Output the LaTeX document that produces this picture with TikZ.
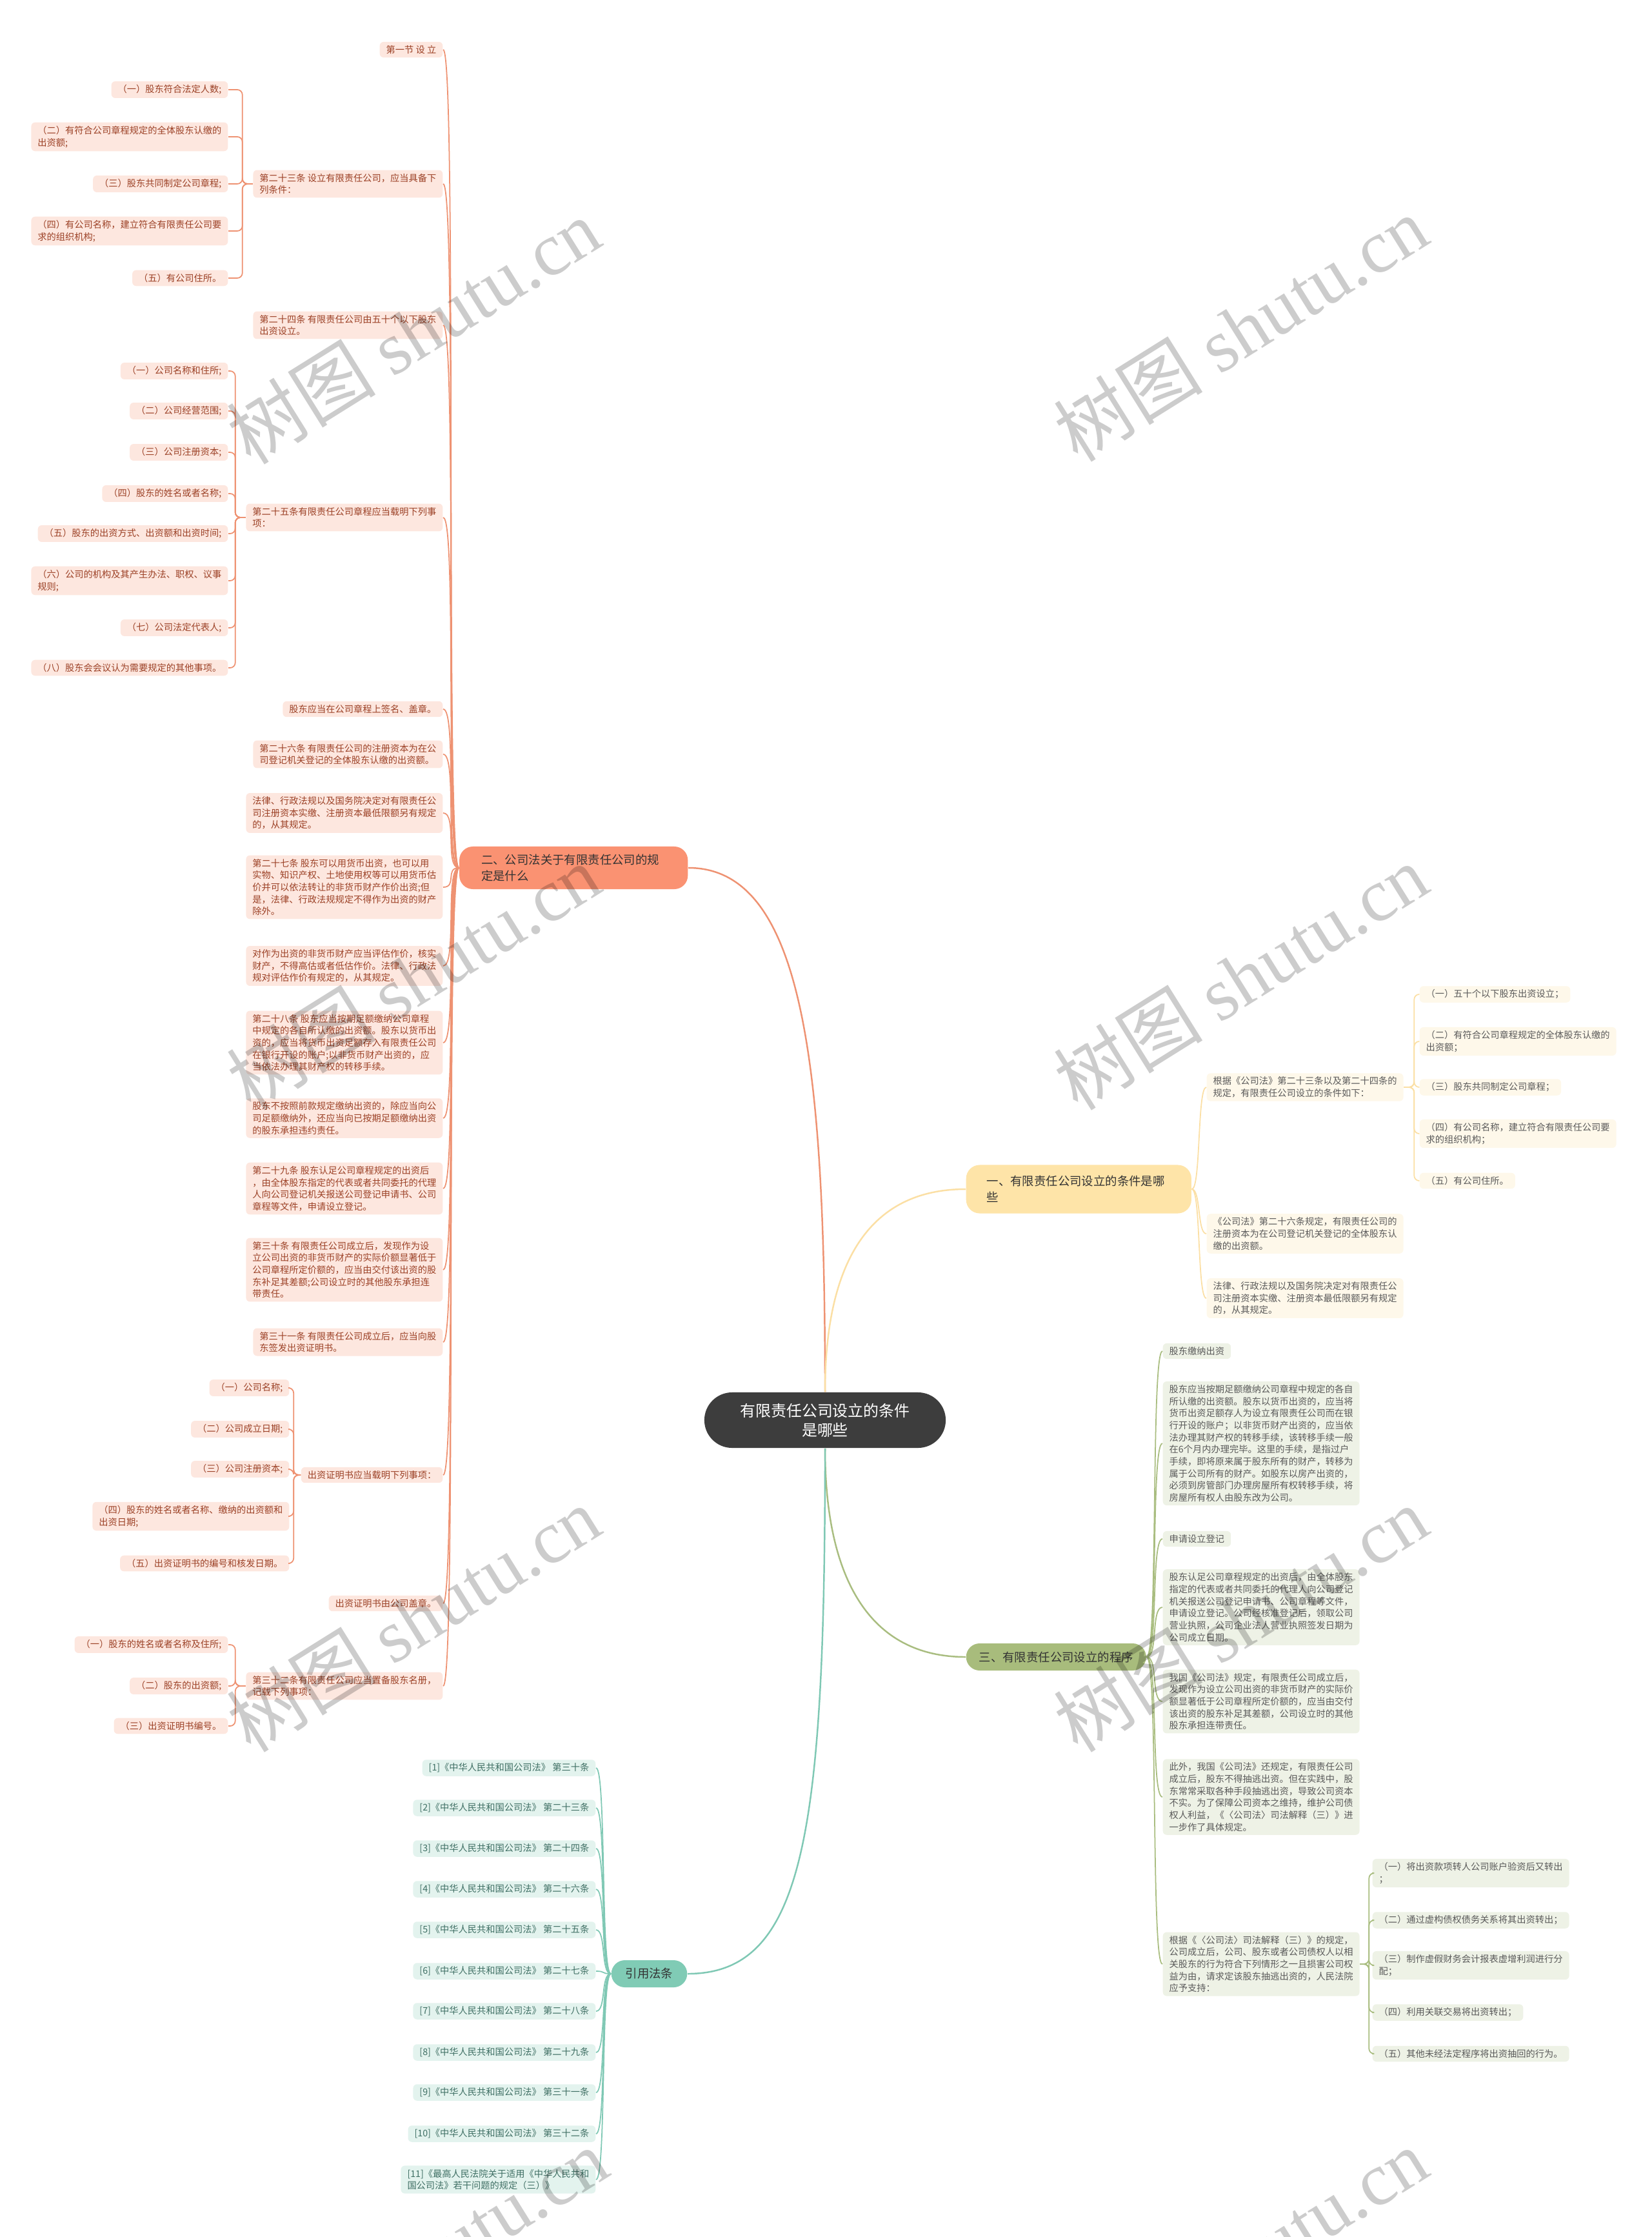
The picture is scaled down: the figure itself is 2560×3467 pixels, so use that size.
\documentclass[tikz,border=0pt]{standalone}
\usepackage{fontspec}
\setmainfont{Noto Sans CJK SC}
\newfontfamily\wmfont{Liberation Serif}

\definecolor{rootfill}{HTML}{3D3D3D}
\definecolor{bonefill}{HTML}{FEE4A8}
\definecolor{btwofill}{HTML}{FA9272}
\definecolor{bthreefill}{HTML}{A8BC7C}
\definecolor{bfourfill}{HTML}{80CBB5}
\definecolor{ofill}{HTML}{FDE7DF}
\definecolor{otext}{HTML}{9C4126}
\definecolor{oline}{HTML}{EE9272}
\definecolor{yfill}{HTML}{FEF8EA}
\definecolor{yline}{HTML}{FBDFA4}
\definecolor{gfill}{HTML}{EEF2E6}
\definecolor{gline}{HTML}{A9BD80}
\definecolor{tfill}{HTML}{E3F3EE}
\definecolor{ttext}{HTML}{3F6F64}
\definecolor{tline}{HTML}{7FC8B4}
\definecolor{leaftext}{HTML}{5A5A5A}

\begin{document}
\begin{tikzpicture}[x=0.01cm, y=-0.01cm,
    leaf/.style={rounded corners=0.06cm, inner xsep=0.1cm, inner ysep=0.055cm,
        align=left, font=\fontsize{4.05}{5.3}\selectfont},
    oleaf/.style={leaf, fill=ofill, text=otext, anchor=east},
    yleaf/.style={leaf, fill=yfill, text=leaftext, anchor=west},
    gleaf/.style={leaf, fill=gfill, text=leaftext, anchor=west},
    tleaf/.style={leaf, fill=tfill, text=ttext, anchor=east},
    branch/.style={rounded corners=0.21cm, inner ysep=0.1cm, text=black!80,
        align=left, font=\fontsize{5.23}{7.1}\selectfont},
    olink/.style={draw=oline, line width=0.5pt},
    ylink/.style={draw=yline, line width=0.5pt},
    glink/.style={draw=gline, line width=0.5pt},
    tlink/.style={draw=tline, line width=0.5pt},
    wm/.style={rotate=32, text=black, opacity=0.2, font=\fontsize{33}{33}\selectfont}
]
\useasboundingbox (0,0) rectangle (2560,3467);

% Root
\node[fill=rootfill, text=white, rounded corners=0.43cm, minimum width=3.74cm,
    minimum height=0.86cm, align=center, font=\fontsize{6.8}{8.5}\selectfont]
    (root) at (1279,2201) {有限责任公司设立的条件\\是哪些};

% Main branches
\node[branch, fill=bonefill, anchor=west, text width=2.85cm, inner xsep=0.32cm,
    minimum height=0.75cm] (b1) at (1497,1843) {一、有限责任公司设立的条件是哪\\些};
\node[branch, fill=btwofill, anchor=east, text width=2.86cm, inner xsep=0.34cm,
    minimum height=0.66cm] (b2) at (1067,1345) {二、公司法关于有限责任公司的规\\定是什么};
\node[branch, fill=bthreefill, anchor=west, inner xsep=0.2cm,
    minimum height=0.42cm] (b3) at (1497,2568) {三、有限责任公司设立的程序};
\node[branch, fill=bfourfill, anchor=east, inner xsep=0.22cm,
    minimum height=0.42cm] (b4) at (1066,3059) {引用法条};

\draw[oline, line width=0.7pt] (root.north) .. controls +(0,-500) and +(180,0) .. (b2.east);
\draw[yline, line width=0.7pt] (root.north) .. controls +(0,-200) and +(-150,0) .. (b1.west);
\draw[gline, line width=0.7pt] (root.south) .. controls +(0,200) and +(-150,0) .. (b3.west);
\draw[tline, line width=0.7pt] (root.south) .. controls +(0,600) and +(180,0) .. (b4.east);

% Branch two: company law
\node[oleaf] (o1) at (687,77) {第一节 设 立};
\node[oleaf] (o2) at (687,285) {第二十三条 设立有限责任公司，应当具备下\\列条件：};
\node[oleaf] (o3) at (687,504) {第二十四条 有限责任公司由五十个以下股东\\出资设立。};
\node[oleaf] (o4) at (687,802) {第二十五条有限责任公司章程应当载明下列事\\项：};
\node[oleaf] (o5) at (687,1099) {股东应当在公司章程上签名、盖章。};
\node[oleaf] (o6) at (687,1169) {第二十六条 有限责任公司的注册资本为在公\\司登记机关登记的全体股东认缴的出资额。};
\node[oleaf] (o7) at (687,1260) {法律、行政法规以及国务院决定对有限责任公\\司注册资本实缴、注册资本最低限额另有规定\\的，从其规定。};
\node[oleaf] (o8) at (687,1375) {第二十七条 股东可以用货币出资，也可以用\\实物、知识产权、土地使用权等可以用货币估\\价并可以依法转让的非货币财产作价出资;但\\是，法律、行政法规规定不得作为出资的财产\\除外。};
\node[oleaf] (o9) at (687,1497) {对作为出资的非货币财产应当评估作价，核实\\财产，不得高估或者低估作价。法律、行政法\\规对评估作价有规定的，从其规定。};
\node[oleaf] (o10) at (687,1616) {第二十八条 股东应当按期足额缴纳公司章程\\中规定的各自所认缴的出资额。股东以货币出\\资的，应当将货币出资足额存入有限责任公司\\在银行开设的账户;以非货币财产出资的，应\\当依法办理其财产权的转移手续。};
\node[oleaf] (o11) at (687,1733) {股东不按照前款规定缴纳出资的，除应当向公\\司足额缴纳外，还应当向已按期足额缴纳出资\\的股东承担违约责任。};
\node[oleaf] (o12) at (687,1842) {第二十九条 股东认足公司章程规定的出资后\\，由全体股东指定的代表或者共同委托的代理\\人向公司登记机关报送公司登记申请书、公司\\章程等文件，申请设立登记。};
\node[oleaf] (o13) at (687,1968) {第三十条 有限责任公司成立后，发现作为设\\立公司出资的非货币财产的实际价额显著低于\\公司章程所定价额的，应当由交付该出资的股\\东补足其差额;公司设立时的其他股东承担连\\带责任。};
\node[oleaf] (o14) at (687,2080) {第三十一条 有限责任公司成立后，应当向股\\东签发出资证明书。};
\node[oleaf] (o15) at (687,2286) {出资证明书应当载明下列事项：};
\node[oleaf] (o16) at (687,2485) {出资证明书由公司盖章。};
\node[oleaf] (o17) at (687,2613) {第三十二条有限责任公司应当置备股东名册，\\记载下列事项：};

\node[oleaf] (o2a) at (354,139) {（一）股东符合法定人数;};
\node[oleaf] (o2b) at (354,212) {（二）有符合公司章程规定的全体股东认缴的\\出资额;};
\node[oleaf] (o2c) at (354,285) {（三）股东共同制定公司章程;};
\node[oleaf] (o2d) at (354,358) {（四）有公司名称，建立符合有限责任公司要\\求的组织机构;};
\node[oleaf] (o2e) at (354,431) {（五）有公司住所。};

\node[oleaf] (o4a) at (354,575) {（一）公司名称和住所;};
\node[oleaf] (o4b) at (354,637) {（二）公司经营范围;};
\node[oleaf] (o4c) at (354,701) {（三）公司注册资本;};
\node[oleaf] (o4d) at (354,765) {（四）股东的姓名或者名称;};
\node[oleaf] (o4e) at (354,827) {（五）股东的出资方式、出资额和出资时间;};
\node[oleaf] (o4f) at (354,900) {（六）公司的机构及其产生办法、职权、议事\\规则;};
\node[oleaf] (o4g) at (354,973) {（七）公司法定代表人;};
\node[oleaf] (o4h) at (354,1035) {（八）股东会会议认为需要规定的其他事项。};

\node[oleaf] (o15a) at (449,2151) {（一）公司名称;};
\node[oleaf] (o15b) at (449,2215) {（二）公司成立日期;};
\node[oleaf] (o15c) at (449,2277) {（三）公司注册资本;};
\node[oleaf] (o15d) at (449,2350) {（四）股东的姓名或者名称、缴纳的出资额和\\出资日期;};
\node[oleaf] (o15e) at (449,2423) {（五）出资证明书的编号和核发日期。};

\node[oleaf] (o17a) at (354,2549) {（一）股东的姓名或者名称及住所;};
\node[oleaf] (o17b) at (354,2613) {（二）股东的出资额;};
\node[oleaf] (o17c) at (354,2675) {（三）出资证明书编号。};

\foreach \n in {o1,o2,o3,o4,o5,o6,o7,o8,o9,o10,o11,o12,o13,o14,o15,o16,o17}
    \draw[olink] (b2.west) .. controls +(-22,0) and +(22,0) .. (\n.east);
\foreach \n in {o2a,o2b,o2c,o2d,o2e}
    \draw[olink, rounded corners=0.08cm] (o2.west) -- ++(-16,0) |- (\n.east);
\foreach \n in {o4a,o4b,o4c,o4d,o4e,o4f,o4g,o4h}
    \draw[olink, rounded corners=0.08cm] (o4.west) -- ++(-16,0) |- (\n.east);
\foreach \n in {o15a,o15b,o15c,o15d,o15e}
    \draw[olink, rounded corners=0.08cm] (o15.west) -- ++(-11,0) |- (\n.east);
\foreach \n in {o17a,o17b,o17c}
    \draw[olink, rounded corners=0.08cm] (o17.west) -- ++(-16,0) |- (\n.east);

% Branch one: conditions
\node[yleaf] (y1) at (1870,1685) {根据《公司法》第二十三条以及第二十四条的\\规定，有限责任公司设立的条件如下：};
\node[yleaf] (y2) at (1870,1912) {《公司法》第二十六条规定，有限责任公司的\\注册资本为在公司登记机关登记的全体股东认\\缴的出资额。};
\node[yleaf] (y3) at (1870,2012) {法律、行政法规以及国务院决定对有限责任公\\司注册资本实缴、注册资本最低限额另有规定\\的，从其规定。};

\node[yleaf] (y1a) at (2200,1541) {（一）五十个以下股东出资设立；};
\node[yleaf] (y1b) at (2200,1614) {（二）有符合公司章程规定的全体股东认缴的\\出资额；};
\node[yleaf] (y1c) at (2200,1685) {（三）股东共同制定公司章程；};
\node[yleaf] (y1d) at (2200,1757) {（四）有公司名称，建立符合有限责任公司要\\求的组织机构；};
\node[yleaf] (y1e) at (2200,1830) {（五）有公司住所。};

\foreach \n in {y1,y2,y3}
    \draw[ylink] (b1.east) .. controls +(14,0) and +(-14,0) .. (\n.west);
\foreach \n in {y1a,y1b,y1c,y1d,y1e}
    \draw[ylink, rounded corners=0.08cm] (y1.east) -- ++(16,0) |- (\n.west);

% Branch three: procedure
\node[gleaf] (g1) at (1802,2094) {股东缴纳出资};
\node[gleaf] (g2) at (1802,2237) {股东应当按期足额缴纳公司章程中规定的各自\\所认缴的出资额。股东以货币出资的，应当将\\货币出资足额存人为设立有限责任公司而在银\\行开设的账户；以非货币财产出资的，应当依\\法办理其财产权的转移手续，该转移手续一般\\在6个月内办理完毕。这里的手续，是指过户\\手续，即将原来属于股东所有的财产，转移为\\属于公司所有的财产。如股东以房产出资的，\\必须到房管部门办理房屋所有权转移手续，将\\房屋所有权人由股东改为公司。};
\node[gleaf] (g3) at (1802,2385) {申请设立登记};
\node[gleaf] (g4) at (1802,2491) {股东认足公司章程规定的出资后，由全体股东\\指定的代表或者共同委托的代理人向公司登记\\机关报送公司登记申请书、公司章程等文件，\\申请设立登记。公司经核准登记后，领取公司\\营业执照，公司企业法人营业执照签发日期为\\公司成立日期。};
\node[gleaf] (g5) at (1802,2637) {我国《公司法》规定，有限责任公司成立后，\\发现作为设立公司出资的非货币财产的实际价\\额显著低于公司章程所定价额的，应当由交付\\该出资的股东补足其差额，公司设立时的其他\\股东承担连带责任。};
\node[gleaf] (g6) at (1802,2785) {此外，我国《公司法》还规定，有限责任公司\\成立后，股东不得抽逃出资。但在实践中，股\\东常常采取各种手段抽逃出资，导致公司资本\\不实。为了保障公司资本之维持，维护公司债\\权人利益，《〈公司法〉司法解释（三）》进\\一步作了具体规定。};
\node[gleaf] (g7) at (1802,3044) {根据《〈公司法〉司法解释（三）》的规定，\\公司成立后，公司、股东或者公司债权人以相\\关股东的行为符合下列情形之一且损害公司权\\益为由，请求定该股东抽逃出资的，人民法院\\应予支持：};

\node[gleaf] (g7a) at (2127,2903) {（一）将出资款项转人公司账户验资后又转出\\；};
\node[gleaf] (g7b) at (2127,2976) {（二）通过虚构债权债务关系将其出资转出；};
\node[gleaf] (g7c) at (2127,3046) {（三）制作虚假财务会计报表虚增利润进行分\\配；};
\node[gleaf] (g7d) at (2127,3119) {（四）利用关联交易将出资转出；};
\node[gleaf] (g7e) at (2127,3183) {（五）其他未经法定程序将出资抽回的行为。};

\foreach \n in {g1,g2,g3,g4,g5,g6,g7}
    \draw[glink] (b3.east) .. controls +(18,0) and +(-18,0) .. (\n.west);
\foreach \n in {g7a,g7b,g7c,g7d,g7e}
    \draw[glink, rounded corners=0.08cm] (g7.east) -- ++(14,0) |- (\n.west);

% Branch four: cited articles
\node[tleaf] (t1) at (924,2740) {[1]《中华人民共和国公司法》 第三十条};
\node[tleaf] (t2) at (924,2802) {[2]《中华人民共和国公司法》 第二十三条};
\node[tleaf] (t3) at (924,2865) {[3]《中华人民共和国公司法》 第二十四条};
\node[tleaf] (t4) at (924,2928) {[4]《中华人民共和国公司法》 第二十六条};
\node[tleaf] (t5) at (924,2991) {[5]《中华人民共和国公司法》 第二十五条};
\node[tleaf] (t6) at (924,3055) {[6]《中华人民共和国公司法》 第二十七条};
\node[tleaf] (t7) at (924,3117) {[7]《中华人民共和国公司法》 第二十八条};
\node[tleaf] (t8) at (924,3181) {[8]《中华人民共和国公司法》 第二十九条};
\node[tleaf] (t9) at (924,3243) {[9]《中华人民共和国公司法》 第三十一条};
\node[tleaf] (t10) at (924,3307) {[10]《中华人民共和国公司法》 第三十二条};
\node[tleaf] (t11) at (924,3378) {[11]《最高人民法院关于适用《中华人民共和\\国公司法》若干问题的规定（三）》};

\foreach \n in {t1,t2,t3,t4,t5,t6,t7,t8,t9,t10,t11}
    \draw[tlink] (b4.west) .. controls +(-16,0) and +(16,0) .. (\n.east);

% Watermarks
\node[wm] (wm1) at (641,513) {树图 {\wmfont shutu.cn}};
\node[wm] (wm2) at (1923,509) {树图 {\wmfont shutu.cn}};
\node[wm] (wm3) at (641,1514) {树图 {\wmfont shutu.cn}};
\node[wm] (wm4) at (1923,1514) {树图 {\wmfont shutu.cn}};
\node[wm] (wm5) at (641,2509) {树图 {\wmfont shutu.cn}};
\node[wm] (wm6) at (1923,2509) {树图 {\wmfont shutu.cn}};
\node[wm] (wm7) at (652,3504) {树图 {\wmfont shutu.cn}};
\node[wm] (wm8) at (1923,3504) {树图 {\wmfont shutu.cn}};

\end{tikzpicture}
\end{document}
